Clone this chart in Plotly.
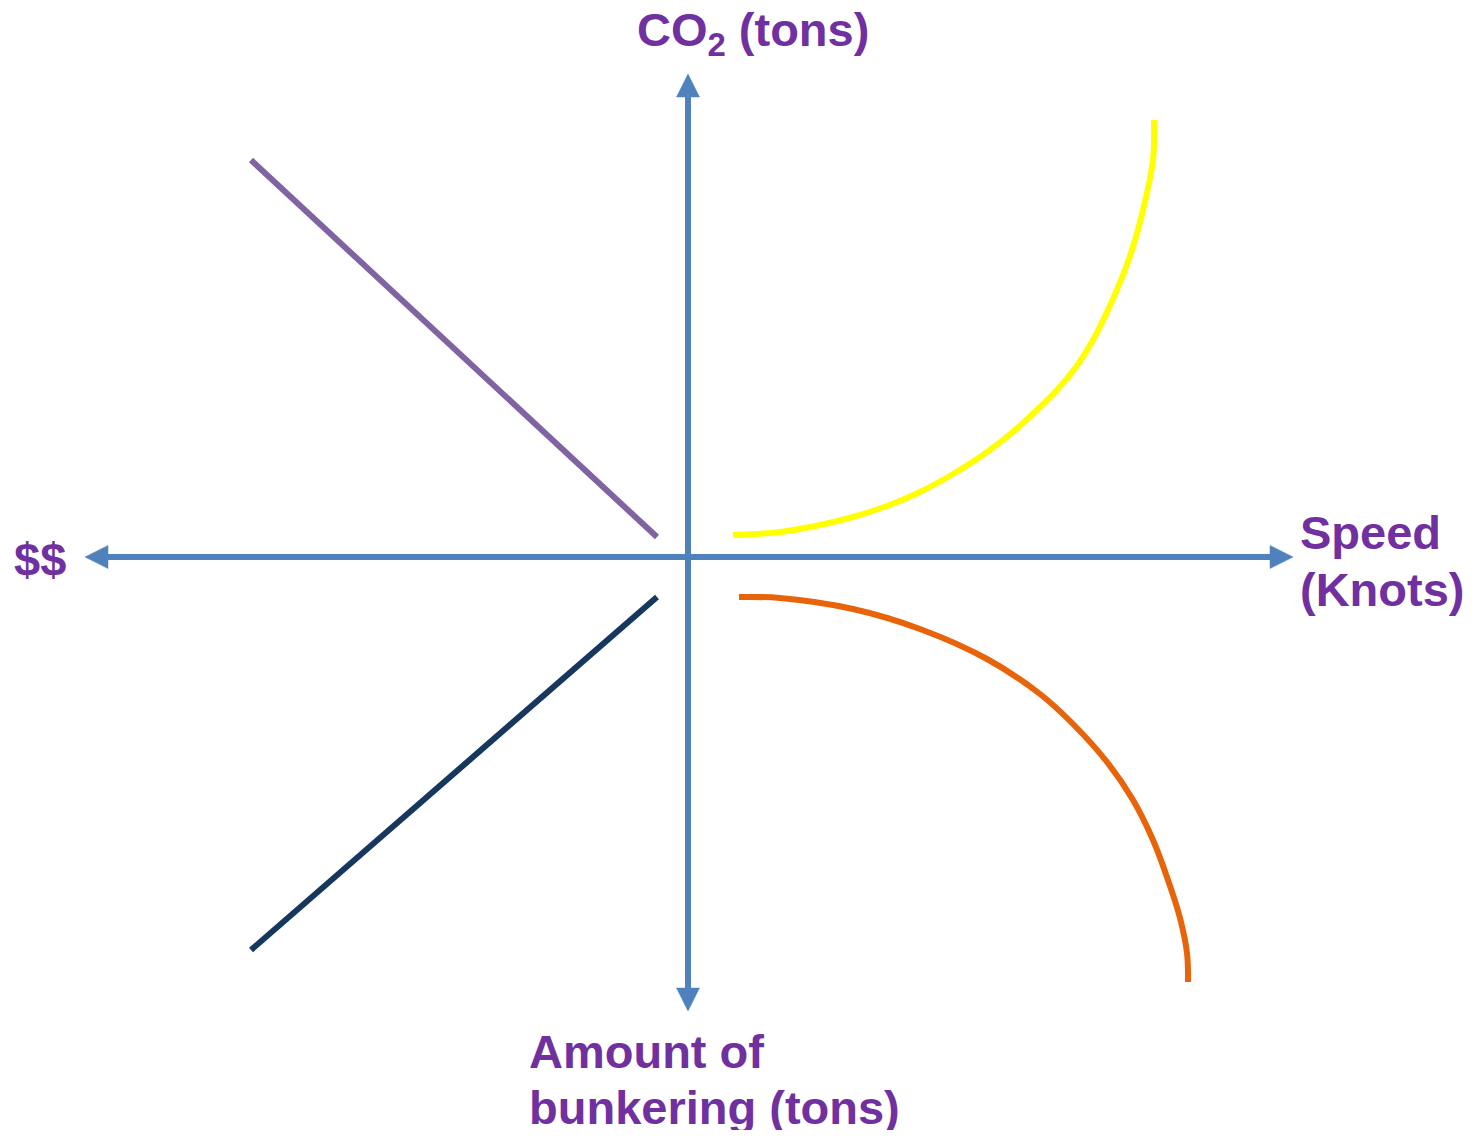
import plotly.graph_objects as go

W, H = 1475, 1138
PAGE_MARGIN = 8  # default HTML body margin

# ---- diagram data (pixel-space coordinates) ----
axis_cx, axis_cy = 688, 557
h_axis_x = [85, 1293]          # arrow tips of horizontal axis
v_axis_y = [74, 1011]          # arrow tips of vertical axis
head_len, head_half = 23, 11.5

purple_x = [251, 657]
purple_y = [160, 537]

navy_x = [251, 657]
navy_y = [950, 597]

yellow_x = [733, 780, 820, 853, 887, 920, 953, 980, 1003, 1022, 1038, 1057, 1076, 1093, 1108, 1121, 1132, 1143, 1153, 1154]
yellow_y = [535, 532, 525, 517, 506, 492, 474, 457, 440, 424, 409, 390, 367, 340, 310, 280, 250, 210, 160, 120]

orange_x = [739, 780, 853, 920, 987, 1040, 1073, 1107, 1133, 1153, 1168, 1180, 1187, 1188]
orange_y = [597, 598, 609, 629, 659, 694, 724, 762, 800, 840, 880, 918, 953, 982]

labels = ["CO<sub>2</sub> (tons)", "$$", "Speed", "(Knots)", "Amount of", "bunkering (tons)"]
label_x = [635, 12, 1298, 1298, 527, 527]
label_y = [33, 559, 532, 589, 1051, 1107]

AXIS_C = "#4F81BD"
TEXT_C = "#7030A0"

fig = go.Figure()

# axis shafts
fig.add_trace(go.Scatter(x=[h_axis_x[0] + head_len, h_axis_x[1] - head_len], y=[axis_cy, axis_cy],
                         mode="lines", line=dict(color=AXIS_C, width=6), hoverinfo="skip"))
fig.add_trace(go.Scatter(x=[axis_cx, axis_cx], y=[v_axis_y[0] + head_len, v_axis_y[1] - head_len],
                         mode="lines", line=dict(color=AXIS_C, width=6), hoverinfo="skip"))

# arrow heads (triangles built from tip + direction)
def head(tx, ty, dx, dy):
    bx, by = tx - dx * head_len, ty - dy * head_len
    px, py = -dy * head_half, dx * head_half
    return [tx, bx + px, bx - px, tx], [ty, by + py, by - py, ty]

for (tx, ty, dx, dy) in [(h_axis_x[0], axis_cy, -1, 0), (h_axis_x[1], axis_cy, 1, 0),
                         (axis_cx, v_axis_y[0], 0, -1), (axis_cx, v_axis_y[1], 0, 1)]:
    xs, ys = head(tx, ty, dx, dy)
    fig.add_trace(go.Scatter(x=xs, y=ys, mode="lines", fill="toself", fillcolor=AXIS_C,
                             line=dict(color=AXIS_C, width=0.5), hoverinfo="skip"))

# curves
fig.add_trace(go.Scatter(x=purple_x, y=purple_y, mode="lines", line=dict(color="#8064A2", width=6)))
fig.add_trace(go.Scatter(x=navy_x, y=navy_y, mode="lines", line=dict(color="#17375E", width=6)))
fig.add_trace(go.Scatter(x=yellow_x, y=yellow_y, mode="lines",
                         line=dict(color="#FFFF00", width=6, shape="spline", smoothing=1.0)))
fig.add_trace(go.Scatter(x=orange_x, y=orange_y, mode="lines",
                         line=dict(color="#E8640A", width=6, shape="spline", smoothing=1.0)))

for t, x, y in zip(labels, label_x, label_y):
    fig.add_annotation(text="<b>" + t + "</b>", x=x, y=y, xref="x", yref="y",
                       xanchor="left", yanchor="middle", showarrow=False,
                       font=dict(family="Liberation Sans, Arial", size=47, color=TEXT_C))

m = PAGE_MARGIN
fig.update_layout(
    width=W - 2 * m, height=H - 2 * m, margin=dict(l=0, r=0, t=0, b=0),
    paper_bgcolor="white", plot_bgcolor="white", showlegend=False,
    xaxis=dict(range=[m, W - m], visible=False, fixedrange=True),
    yaxis=dict(range=[H - m, m], visible=False, fixedrange=True),
)

fig.write_html("out.html")
